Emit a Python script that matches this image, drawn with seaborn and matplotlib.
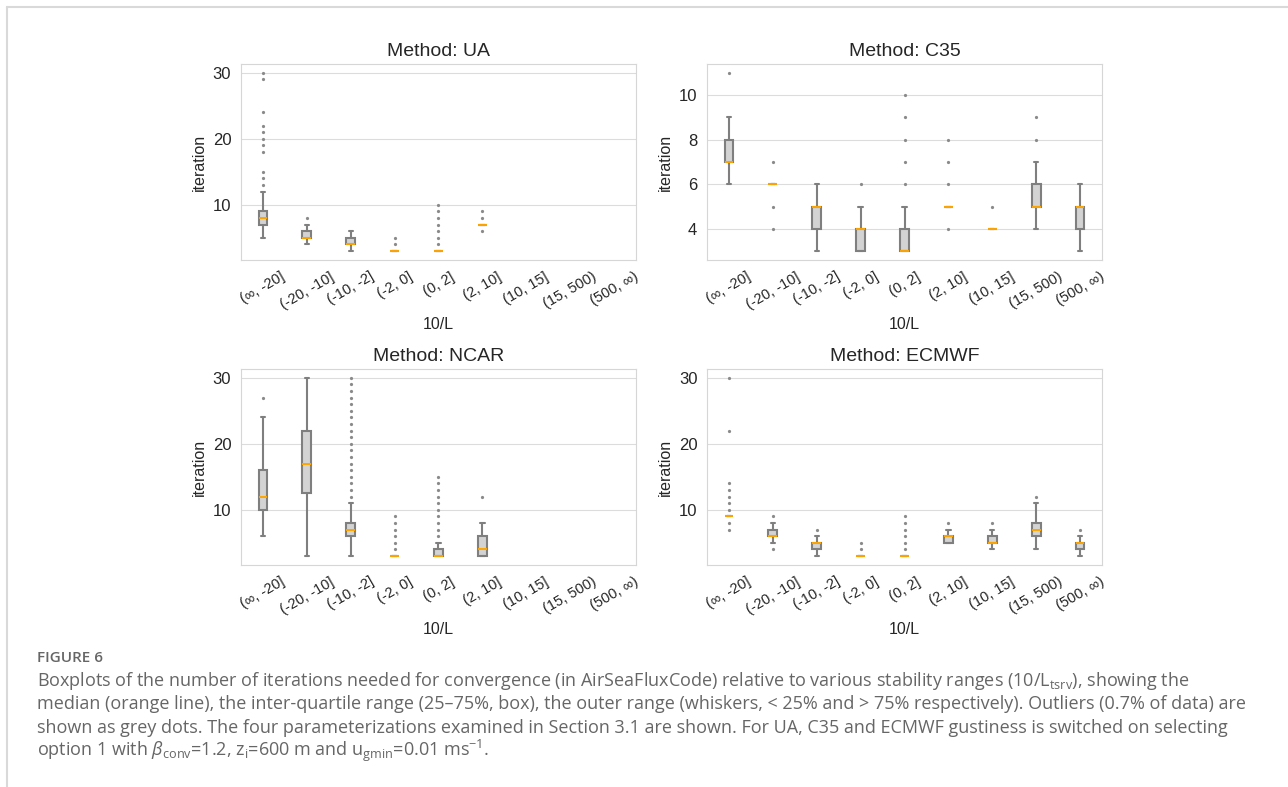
import numpy as np
import pandas as pd
import matplotlib
matplotlib.use("Agg")
import matplotlib.pyplot as plt
import seaborn as sns

# stability bins on the x axis
bins = ['(∞, -20]', '(-20, -10]', '(-10, -2]', '(-2, 0]', '(0, 2]',
        '(2, 10]', '(10, 15]', '(15, 500)', '(500, ∞)']
methods = ['UA', 'C35', 'NCAR', 'ECMWF']

# per bin: iteration values, how often they occur, and the outliers
ua_vals = [[5, 6, 7, 8, 9, 10, 11, 12], [4, 5, 6, 7], [3, 4, 5, 6], [3], [3], [7], [], [], []]
ua_counts = [[2, 10, 40, 50, 40, 10, 5, 2], [10, 50, 35, 5], [10, 50, 35, 5], [100], [100], [50], [], [], []]
ua_fliers = [[13, 14, 15, 18, 19, 20, 21, 22, 24, 29, 30], [8], [], [4, 5],
             [4, 5, 6, 7, 8, 9, 10], [6, 8, 9], [], [], []]

c35_vals = [[6, 7, 8, 9], [6], [3, 4, 5, 6], [3, 4, 5], [3, 4, 5], [5], [4], [4, 5, 6, 7], [3, 4, 5, 6]]
c35_counts = [[10, 50, 35, 5], [100], [10, 30, 55, 5], [30, 55, 15], [55, 35, 10], [100], [100],
              [10, 50, 35, 5], [10, 30, 55, 5]]
c35_fliers = [[11], [4, 5, 7], [], [6], [6, 7, 8, 9, 10], [4, 6, 7, 8], [5], [8, 9], []]

ncar_vals = [[6, 8, 10, 11, 12, 14, 16, 20, 24],
             [3, 6, 9, 11, 12, 13, 15, 17, 19, 21, 22, 25, 28, 30],
             [3, 4, 5, 6, 7, 8, 9, 10, 11], [3], [3, 4, 5], [3, 4, 5, 6, 7, 8], [], [], []]
ncar_counts = [[5, 10, 20, 15, 20, 15, 20, 10, 5],
               [5, 5, 8, 7, 1, 10, 10, 10, 10, 10, 10, 7, 5, 5],
               [3, 5, 10, 30, 40, 30, 10, 5, 3], [100], [60, 30, 10], [30, 30, 15, 20, 3, 3], [], [], []]
ncar_fliers = [[27], [],
               [12, 13, 14, 15, 16, 17, 18, 19, 20, 21, 22, 23, 24, 25, 26, 27, 28, 29, 30],
               [4, 5, 6, 7, 8, 9], [6, 7, 8, 9, 10, 11, 12, 13, 14, 15], [12], [], [], []]

ecmwf_vals = [[9], [5, 6, 7, 8], [3, 4, 5, 6], [3], [3], [5, 6, 7], [4, 5, 6, 7],
              [4, 5, 6, 7, 8, 9, 10, 11], [3, 4, 5, 6]]
ecmwf_counts = [[100], [10, 50, 35, 5], [10, 30, 55, 5], [100], [100], [30, 55, 15], [10, 50, 35, 5],
                [5, 10, 30, 40, 30, 5, 3, 2], [10, 30, 55, 5]]
ecmwf_fliers = [[7, 8, 10, 11, 12, 13, 14, 22, 30], [4, 9], [7], [4, 5], [4, 5, 6, 7, 8, 9], [8], [8], [12], [7]]

yticks = {'UA': [10, 20, 30], 'C35': [4, 6, 8, 10], 'NCAR': [10, 20, 30], 'ECMWF': [10, 20, 30]}

caption_head = 'FIGURE 6'
caption_lines = [
    r'Boxplots of the number of iterations needed for convergence (in AirSeaFluxCode) relative to various stability ranges (10/L$_{\mathrm{tsrv}}$), showing the',
    'median (orange line), the inter-quartile range (25–75%, box), the outer range (whiskers, < 25% and > 75% respectively). Outliers (0.7% of data) are',
    'shown as grey dots. The four parameterizations examined in Section 3.1 are shown. For UA, C35 and ECMWF gustiness is switched on selecting',
    r'option 1 with $\beta_{\mathrm{conv}}$=1.2, z$_{\mathrm{i}}$=600 m and u$_{\mathrm{gmin}}$=0.01 ms$^{-1}$.',
]


def make_frame(vals, counts, fliers):
    rows = []
    for b, v, c, f in zip(bins, vals, counts, fliers):
        its = list(np.repeat(v, c)) + list(f)
        rows += [(b, i) for i in its]
    return pd.DataFrame(rows, columns=['10/L', 'iteration'])


frames = {
    'UA': make_frame(ua_vals, ua_counts, ua_fliers),
    'C35': make_frame(c35_vals, c35_counts, c35_fliers),
    'NCAR': make_frame(ncar_vals, ncar_counts, ncar_fliers),
    'ECMWF': make_frame(ecmwf_vals, ecmwf_counts, ecmwf_fliers),
}

sns.set_style('whitegrid')
plt.rcParams['font.family'] = ['Liberation Sans', 'DejaVu Sans']
plt.rcParams['mathtext.fontset'] = 'custom'
plt.rcParams['mathtext.rm'] = 'Open Sans'
plt.rcParams['mathtext.it'] = 'Open Sans:italic'

fig, axes = plt.subplots(2, 2, figsize=(12.88, 7.87), dpi=100)
fig.subplots_adjust(left=0.1871, right=0.8556, top=0.9187, bottom=0.2821,
                    wspace=0.18, hspace=0.556)

for ax, m in zip(axes.flat, methods):
    sns.boxplot(data=frames[m], x='10/L', y='iteration', order=bins, ax=ax,
                width=0.2, color='lightgray', linecolor='gray', linewidth=1.5,
                saturation=1, fliersize=1.3,
                medianprops=dict(color='orange', linewidth=1.4),
                flierprops=dict(marker='o', markerfacecolor='#8a8a8a', markeredgecolor='#8a8a8a'))
    ax.set_yticks(yticks[m])
    ax.set_title(f'Method: {m}', fontsize=14)
    ax.set_xlabel('10/L', fontsize=11.5)
    ax.set_ylabel('iteration', fontsize=11.5)
    ax.tick_params(axis='y', labelsize=12)
    ax.tick_params(axis='x', labelsize=10.5, labelrotation=30)
    for s in ax.spines.values():
        s.set_color('#d6d6d6')
    ax.grid(axis='y', color='#dcdcdc')

# page frame of the figure panel
fig.add_artist(plt.Line2D([7 / 1288, 1], [1 - 7 / 787] * 2, transform=fig.transFigure,
                          color='#d9d9d9', lw=1.5))
fig.add_artist(plt.Line2D([7 / 1288] * 2, [0, 1 - 7 / 787], transform=fig.transFigure,
                          color='#d9d9d9', lw=1.5))

fig.text(37 / 1288, 1 - 658 / 787, caption_head, fontsize=11, color='#666666',
         family='Open Sans', weight='semibold', va='center')
for i, line in enumerate(caption_lines):
    fig.text(37 / 1288, 1 - (681 + 23.3 * i) / 787, line, fontsize=13, color='#666666',
             family='Open Sans', va='center')

fig.savefig('out.png', dpi=100)
